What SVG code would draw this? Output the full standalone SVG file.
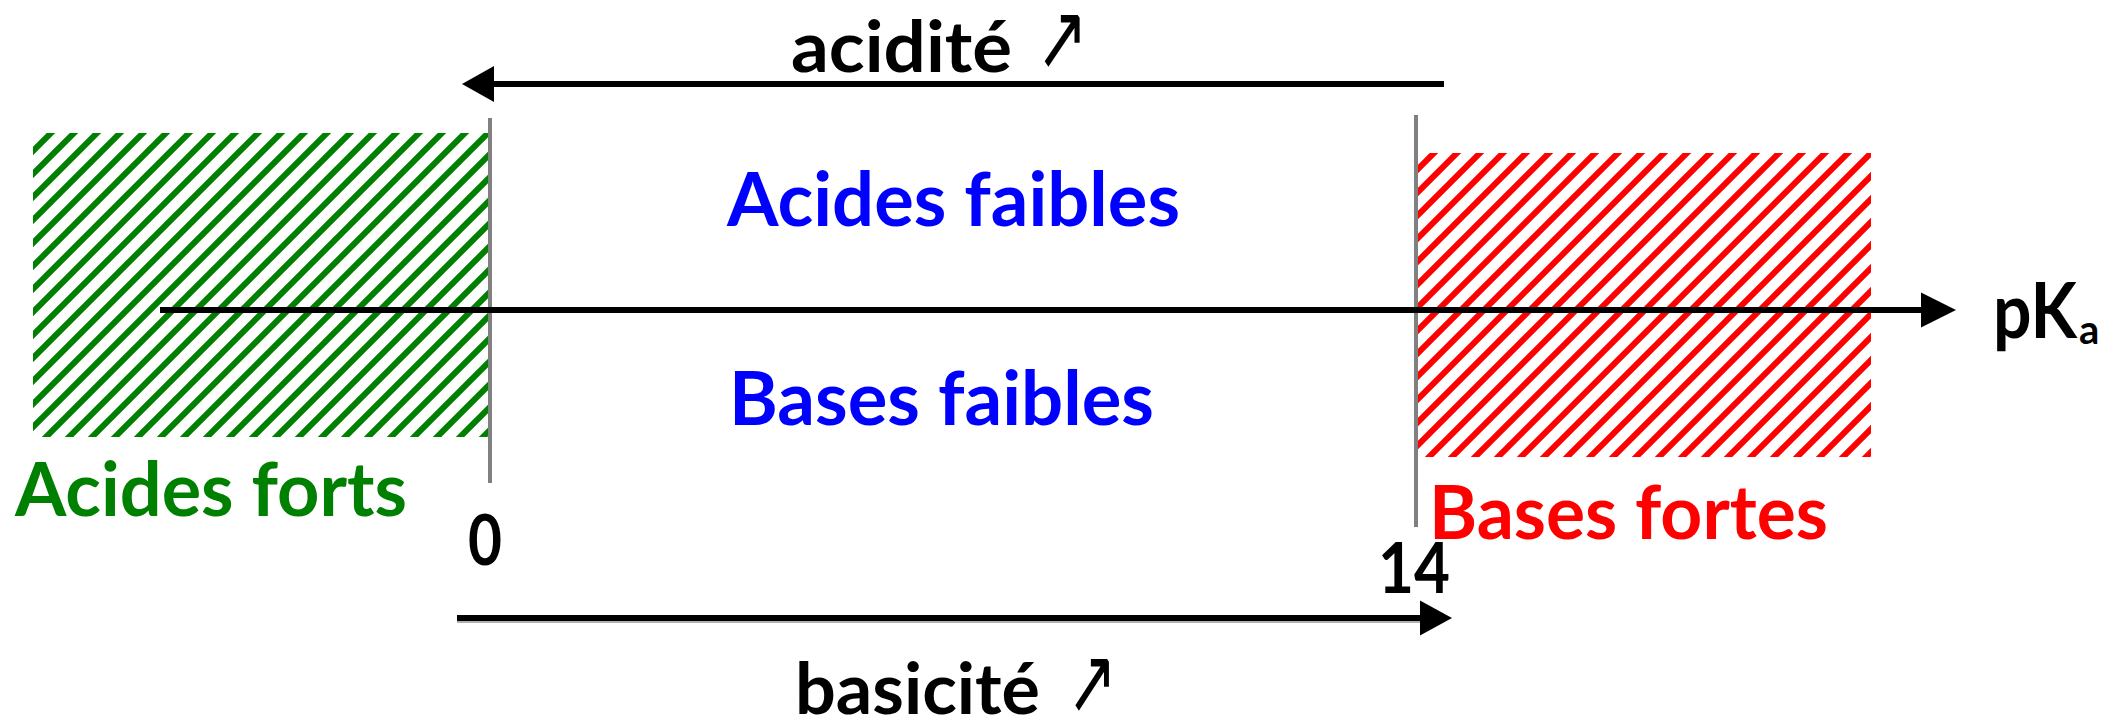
<svg xmlns="http://www.w3.org/2000/svg" width="2121" height="721" viewBox="0 0 2121 721">
  <style>
    .lbl { font-family: Lato, "Open Sans", "Liberation Sans", sans-serif; font-weight: bold; }
    .big { font-size: 75px; }
    .blk { font-size: 70px; fill: #000; }
    .blue { fill: #0000FF; }
    .green { fill: #008000; }
    .red { fill: #FF0000; }
    .tick { stroke: #808080; stroke-width: 4; }
    .line { stroke: #000; stroke-width: 6; fill: none; }
    .sym { font-family: "DejaVu Sans", sans-serif; font-weight: normal; font-size: 92px; }
  </style>
  <defs>
    <pattern id="hatchGreen" patternUnits="userSpaceOnUse" width="23" height="23">
      <path d="M-6,6 L6,-6 M0,23 L23,0 M17,29 L29,17" stroke="#008000" stroke-width="6"/>
    </pattern>
    <pattern id="hatchRed" patternUnits="userSpaceOnUse" width="23" height="23">
      <path d="M-6,6 L6,-6 M0,23 L23,0 M17,29 L29,17" stroke="#FF0000" stroke-width="6"/>
    </pattern>
  </defs>

  <rect width="2121" height="721" fill="#fff"/>

  <!-- strong acids zone -->
  <g id="acides-forts">
    <rect x="33" y="133" width="456" height="304" fill="url(#hatchGreen)"/>
    <text class="lbl big green" x="15" y="516" textLength="392" lengthAdjust="spacingAndGlyphs">Acides forts</text>
  </g>

  <!-- strong bases zone -->
  <g id="bases-fortes">
    <rect x="1414" y="153" width="457" height="304" fill="url(#hatchRed)"/>
    <text class="lbl big red" x="1429" y="539" textLength="399" lengthAdjust="spacingAndGlyphs">Bases fortes</text>
  </g>

  <!-- weak acids / weak bases zone -->
  <g id="acides-faibles">
    <text class="lbl big blue" x="727" y="226" textLength="453" lengthAdjust="spacingAndGlyphs">Acides faibles</text>
  </g>
  <g id="bases-faibles">
    <text class="lbl big blue" x="729" y="425" textLength="425" lengthAdjust="spacingAndGlyphs">Bases faibles</text>
  </g>

  <!-- pKa boundaries -->
  <g id="borne-0">
    <line class="tick" x1="490" y1="118" x2="490" y2="483"/>
    <text class="lbl blk" x="468" y="565" textLength="34" lengthAdjust="spacingAndGlyphs">0</text>
  </g>
  <g id="borne-14">
    <line class="tick" x1="1416" y1="115" x2="1416" y2="527"/>
    <text class="lbl blk" x="1378" y="593" textLength="72" lengthAdjust="spacingAndGlyphs">14</text>
  </g>

  <g id="axe-label">
    <text class="lbl" font-size="77" x="1993" y="338"><tspan textLength="84" lengthAdjust="spacingAndGlyphs">pK</tspan><tspan x="2079" font-size="40" dy="6">a</tspan></text>
  </g>

  <g id="acidite-label">
    <text class="lbl blk" y="72"><tspan x="791" textLength="221" lengthAdjust="spacingAndGlyphs">acidité</tspan><tspan class="sym" x="1036" y="69" textLength="52" lengthAdjust="spacingAndGlyphs">↗</tspan></text>
  </g>
  <g id="basicite-label">
    <text class="lbl blk" y="714"><tspan x="795" textLength="245" lengthAdjust="spacingAndGlyphs">basicité</tspan><tspan class="sym" x="1067" y="713" textLength="50" lengthAdjust="spacingAndGlyphs">↗</tspan></text>
  </g>

  <!-- axis and direction arrows -->
  <g id="connecteurs">
    <line class="line" x1="160" y1="310" x2="1924" y2="310"/>
    <polygon points="1956,310 1921,292.5 1921,327.5" fill="#000"/>

    <line class="line" x1="1444" y1="84" x2="490" y2="84"/>
    <polygon points="462,84 494,66 494,102" fill="#000"/>

    <line x1="457" y1="621" x2="1422" y2="621" stroke="#b0b0b0" stroke-width="4"/>
    <line class="line" x1="457" y1="618" x2="1422" y2="618"/>
    <polygon points="1452,618 1420,600.5 1420,635.5" fill="#000"/>
  </g>
</svg>
